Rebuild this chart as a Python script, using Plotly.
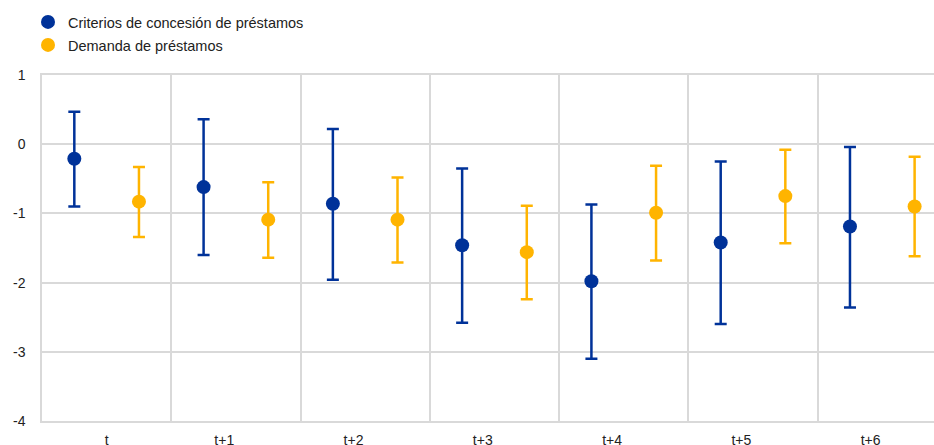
import plotly.graph_objects as go

# Horizons
horizons = ["t", "t+1", "t+2", "t+3", "t+4", "t+5", "t+6"]

# Credit standards: point estimate and confidence band
criterios = [-0.21, -0.62, -0.86, -1.46, -1.98, -1.42, -1.19]
criterios_hi = [0.47, 0.36, 0.22, -0.35, -0.87, -0.25, -0.04]
criterios_lo = [-0.90, -1.60, -1.96, -2.58, -3.10, -2.60, -2.36]

# Loan demand: point estimate and confidence band
demanda = [-0.83, -1.09, -1.09, -1.56, -0.99, -0.75, -0.90]
demanda_hi = [-0.33, -0.55, -0.48, -0.89, -0.31, -0.08, -0.18]
demanda_lo = [-1.34, -1.64, -1.71, -2.24, -1.68, -1.43, -1.62]

# Value axis ticks
y_ticks = [1, 0, -1, -2, -3, -4]

BLUE = "#003299"
YELLOW = "#FFB400"
GRID = "#D9D9D9"
TEXT = "#222222"
FONT = "Liberation Sans, Arial, sans-serif"
offset = 0.25

pos = list(range(len(horizons)))
# the "t+n" labels carry trailing padding so they sit a little left of centre
x_labels = [h if len(h) == 1 else h + "\u00a0" * 6 for h in horizons]


def band(center, hi, lo):
    return [h - c for h, c in zip(hi, center)], [c - l for c, l in zip(center, lo)]


fig = go.Figure()

for name, vals, hi, lo, color, shift, leg in [
    ("Criterios de concesión de préstamos", criterios, criterios_hi, criterios_lo, BLUE, -offset, "legend"),
    ("Demanda de préstamos", demanda, demanda_hi, demanda_lo, YELLOW, offset, "legend2"),
]:
    plus, minus = band(vals, hi, lo)
    fig.add_trace(go.Scatter(
        x=[p + shift for p in pos],
        y=vals,
        mode="markers",
        name=name,
        legend=leg,
        marker=dict(color=color, size=14, line=dict(width=0)),
        error_y=dict(type="data", symmetric=False, array=plus, arrayminus=minus,
                     color=color, thickness=2.5, width=6),
        cliponaxis=False,
    ))

legend_style = dict(xref="container", yref="container", xanchor="left", yanchor="middle",
                    font=dict(size=14.5, color=TEXT),
                    bgcolor="rgba(0,0,0,0)", borderwidth=0)

fig.update_layout(
    width=934, height=445,
    margin=dict(l=42, r=0, t=75, b=24, autoexpand=False),
    plot_bgcolor="white", paper_bgcolor="white",
    font=dict(family=FONT, size=14, color=TEXT),
    showlegend=True,
    legend=dict(x=28 / 934, y=1 - 22 / 445, **legend_style),
    legend2=dict(x=28 / 934, y=1 - 45 / 445, **legend_style),
    xaxis=dict(
        range=[-0.5, 6.4],
        tickvals=pos, ticktext=x_labels,
        showgrid=False, zeroline=False,
        showline=True, mirror=True, linecolor=GRID, linewidth=1.5,
        ticks="outside", ticklen=5, tickcolor="rgba(0,0,0,0)",
        tickfont=dict(size=14, color=TEXT),
        minor=dict(tick0=-0.5, dtick=1, showgrid=True, gridcolor=GRID, gridwidth=1.5, ticks=""),
    ),
    yaxis=dict(
        range=[-4, 1],
        tickvals=y_ticks, ticktext=[str(v) for v in y_ticks],
        showgrid=True, gridcolor=GRID, gridwidth=1.5,
        zeroline=False,
        showline=True, linecolor=GRID, linewidth=1.5,
        ticks="outside", ticklen=12, tickcolor="rgba(0,0,0,0)",
        tickfont=dict(size=14, color=TEXT),
    ),
)

fig.write_html("out.html")
